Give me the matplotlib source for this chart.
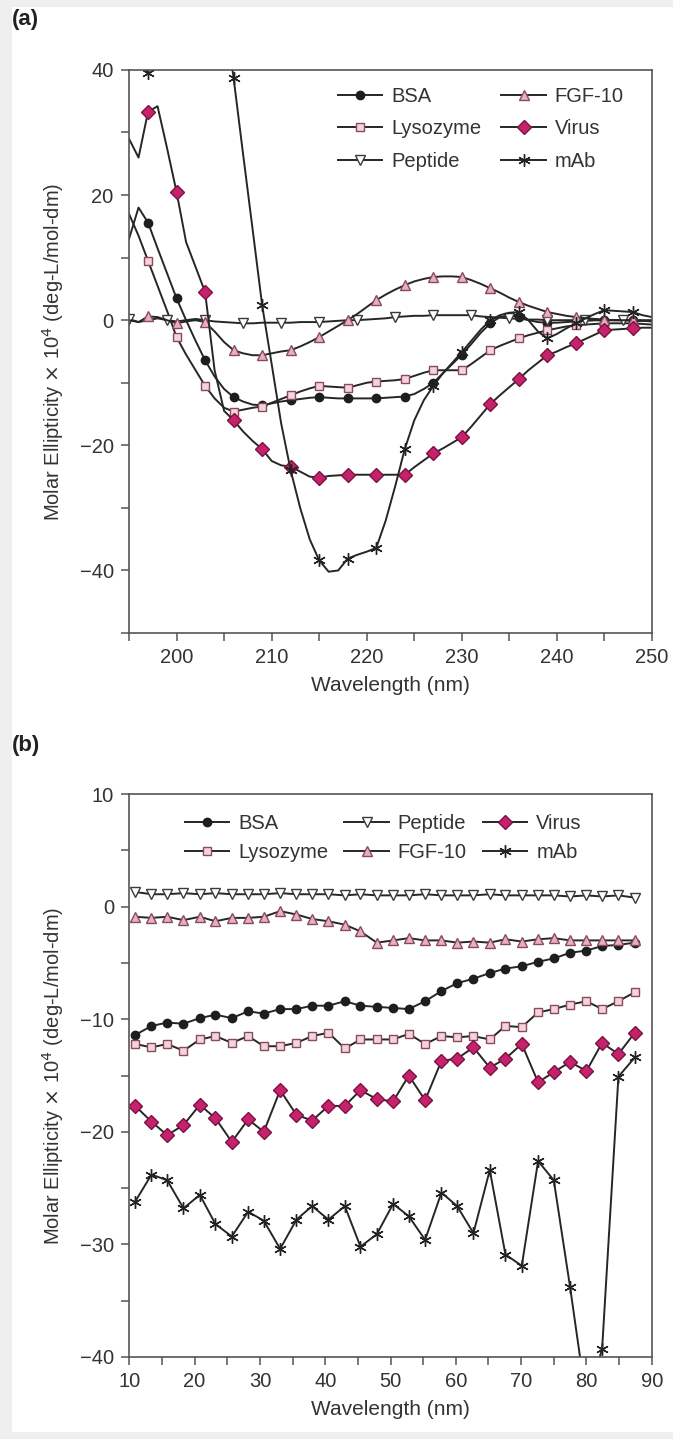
import numpy as np
import matplotlib.pyplot as plt
from matplotlib.patches import Rectangle
from matplotlib.ticker import MultipleLocator

plt.rcParams['font.family'] = ['Liberation Sans', 'DejaVu Sans']

# =================== DADOS ===================
# painel (a): 195-250 nm, passo 1 nm
wl_a = np.arange(195, 251)

bsa_a = [13, 18, 15.6, 11.5, 7.5, 3.5, 0, -3.3, -6.4, -9,
         -11, -12.3, -13, -13.5, -13.6, -13.3, -13, -12.8, -12.6, -12.4,
         -12.3, -12.4, -12.5, -12.5, -12.5, -12.5, -12.5, -12.4, -12.3, -12.2,
         -11.8, -11, -10, -8.5, -7, -5.5, -3.8, -2, -0.5, 0.5,
         0.8, 0.5, 0, -0.3, -0.4, -0.4, -0.3, -0.2, -0.1, 0,
         0, 0, 0, 0, 0, 0]
lyso_a = [17, 13.5, 9.5, 5.5, 1.5, -2.7, -5.5, -8, -10.5, -12.5,
          -14, -14.6, -14.3, -14, -13.8, -13.2, -12.6, -12, -11.4, -10.9,
          -10.5, -10.6, -10.7, -10.8, -10.4, -10, -9.8, -9.7, -9.6, -9.4,
          -8.9, -8.4, -8, -8, -8, -8, -7, -5.9, -4.8, -4.1,
          -3.5, -2.9, -2.4, -2, -1.6, -1.3, -1, -0.8, -0.7, -0.6,
          -0.5, -0.5, -0.5, -0.5, -0.6, -0.7]
pep_a = [0.2, -0.3, 0, 0.3, 0, -0.2, 0, 0.2, 0, -0.2,
         -0.3, -0.4, -0.5, -0.5, -0.4, -0.4, -0.4, -0.4, -0.3, -0.3,
         -0.3, -0.2, -0.1, 0, 0, 0.1, 0.2, 0.3, 0.5, 0.6,
         0.7, 0.7, 0.8, 0.8, 0.8, 0.8, 0.8, 0.6, 0.5, 0.4,
         0.3, 0.2, 0.1, 0.1, 0, 0, 0, 0, 0, 0,
         0, 0, 0, -0.1, -0.1, -0.1]
fgf_a = [0, -0.3, 0.6, 0.5, 0, -0.5, -0.2, 0, -0.3, -1.8,
         -3.5, -4.8, -5.3, -5.6, -5.6, -5.3, -5, -4.8, -4.2, -3.5,
         -2.7, -1.8, -0.9, 0, 1, 2.1, 3.2, 4.1, 4.9, 5.6,
         6.2, 6.6, 6.9, 7, 7, 6.9, 6.4, 5.8, 5.1, 4.4,
         3.6, 2.9, 2.3, 1.8, 1.3, 1, 0.7, 0.5, 0.3, 0.2,
         0.1, 0, 0, 0, -0.1, -0.2]
virus_a = [29, 26, 33.3, 34.2, 27.5, 20.5, 12.5, 8.5, 4.5, -8,
           -14.5, -16, -17.8, -19.3, -20.6, -22.5, -23.2, -23.4, -24.2, -25,
           -25.2, -24.9, -24.8, -24.7, -24.7, -24.7, -24.7, -24.7, -24.7, -24.7,
           -23.5, -22.4, -21.3, -20.5, -19.6, -18.7, -17, -15.2, -13.4, -12,
           -10.7, -9.4, -8, -6.8, -5.6, -5, -4.3, -3.7, -3, -2.3,
           -1.6, -1.5, -1.4, -1.3, -1.2, -1.2]
mab_a = [48, 42, 39.5, 50, 62, 70, 72, 72, 70, 62,
         50, 38.7, 26.5, 14.5, 2.4, -7, -16.5, -24, -30, -35,
         -38.4, -40.2, -40, -38.1, -37.5, -37, -36.4, -32, -26.5, -20.6,
         -16, -12.8, -10.5, -8.5, -6.8, -5.1, -3.3, -1.5, 0, 0.8,
         1.2, 1.3, 0, -1.8, -2.9, -2.2, -1.3, -0.5, 0.3, 1,
         1.6, 1.5, 1.4, 1.3, 0.8, 0.5]

# painel (b)
wl_b = [10.9, 13.4, 15.8, 18.3, 20.8, 23.2, 25.7, 28.2, 30.6, 33.1, 35.6,
        38.0, 40.5, 43.0, 45.4, 47.9, 50.4, 52.8, 55.3, 57.8, 60.2, 62.7,
        65.2, 67.6, 70.1, 72.6, 75.0, 77.5, 80.0, 82.4, 84.9, 87.4]
bsa_b = [-11.4, -10.6, -10.3, -10.4, -9.9, -9.6, -9.9, -9.3, -9.5, -9.1, -9.1,
         -8.8, -8.8, -8.4, -8.8, -8.9, -9.0, -9.1, -8.4, -7.5, -6.8, -6.4,
         -5.9, -5.5, -5.3, -4.9, -4.6, -4.1, -3.9, -3.5, -3.4, -3.2]
lyso_b = [-12.2, -12.5, -12.2, -12.8, -11.8, -11.5, -12.1, -11.5, -12.4, -12.4, -12.1,
          -11.5, -11.2, -12.6, -11.8, -11.8, -11.8, -11.3, -12.2, -11.5, -11.6, -11.5,
          -11.8, -10.6, -10.7, -9.4, -9.1, -8.7, -8.4, -9.1, -8.4, -7.6]
pep_b = [1.3, 1.1, 1.1, 1.2, 1.1, 1.2, 1.1, 1.1, 1.1, 1.2, 1.1,
         1.1, 1.1, 1.0, 1.1, 1.0, 1.0, 1.0, 1.1, 1.0, 1.0, 1.0,
         1.1, 1.0, 1.0, 1.0, 1.0, 0.9, 1.0, 0.9, 1.0, 0.8]
fgf_b = [-0.9, -1.0, -0.9, -1.2, -0.9, -1.3, -1.0, -1.0, -0.9, -0.4, -0.7,
         -1.1, -1.3, -1.6, -2.2, -3.2, -3.0, -2.8, -3.0, -3.0, -3.2, -3.1,
         -3.2, -2.9, -3.1, -2.9, -2.8, -3.0, -3.0, -3.0, -3.0, -3.0]
virus_b = [-17.7, -19.1, -20.3, -19.4, -17.6, -18.8, -20.9, -18.9, -20.0, -16.3, -18.5,
           -19.0, -17.7, -17.7, -16.3, -17.1, -17.3, -15.0, -17.2, -13.7, -13.5, -12.5,
           -14.3, -13.5, -12.2, -15.6, -14.7, -13.8, -14.6, -12.1, -13.1, -11.2]
mab_b = [-26.2, -23.8, -24.3, -26.8, -25.6, -28.2, -29.3, -27.1, -27.9, -30.4, -27.8,
         -26.6, -27.8, -26.6, -30.2, -29.1, -26.4, -27.5, -29.6, -25.4, -26.6, -29.0,
         -23.4, -30.9, -31.9, -22.6, -24.3, -33.8, -44.0, -39.3, -15.1, -13.4]

# =================== ESTILOS ===================
LINHA = '#262626'
ESTILOS = {
    'BSA': dict(marker='o', mfc='#1e1e1e', mec='#1e1e1e', ms=6),
    'Lysozyme': dict(marker='s', mfc='#f4d3dc', mec='#8a4a5a', ms=6),
    'Peptide': dict(marker='v', mfc='white', mec='#3a3a3a', ms=7),
    'FGF-10': dict(marker='^', mfc='#e5b0c0', mec='#8a4a5a', ms=7),
    'Virus': dict(marker='D', mfc='#c4226a', mec='#7d1243', ms=7),
    'mAb': dict(marker=(6, 2, 0), mfc='#222222', mec='#222222', ms=9),
}


def desenhar(ax, x, series, marcas, ordem):
    linhas = {}
    for nome, y in series.items():
        st = ESTILOS[nome]
        ln, = ax.plot(x, y, color=LINHA, lw=1.4, marker=st['marker'],
                      markerfacecolor=st['mfc'], markeredgecolor=st['mec'],
                      markersize=st['ms'], markeredgewidth=1.0,
                      markevery=marcas.get(nome), label=nome)
        linhas[nome] = ln
    return [linhas[n] for n in ordem]


def estilo_eixo(ax):
    for sp in ax.spines.values():
        sp.set_color('#555555')
        sp.set_linewidth(1.2)
    ax.tick_params(which='both', direction='out', length=6, width=1.1,
                   color='#555555', labelcolor='#333333', labelsize=14.5, pad=5)
    ax.set_xlabel('Wavelength (nm)', fontsize=15, color='#333333', labelpad=6)
    ax.set_ylabel(r'Molar Ellipticity $\times$ 10$^{4}$ (deg-L/mol-dm)',
                  fontsize=14.5, color='#333333', labelpad=10)


fig = plt.figure(figsize=(6.73, 14.39), dpi=100, facecolor='#efefef')
fig.add_artist(Rectangle((12 / 673, 0.005), 1, 0.99, transform=fig.transFigure,
                         facecolor='white', edgecolor='none', zorder=-10))

# ---- painel (a)
ax1 = fig.add_axes([0.1917, 0.5601, 0.7771, 0.3913])
series_a = {'BSA': bsa_a, 'Lysozyme': lyso_a, 'Peptide': pep_a,
            'FGF-10': fgf_a, 'Virus': virus_a, 'mAb': mab_a}
marcas_a = {'BSA': (2, 3), 'Lysozyme': (2, 3), 'Peptide': (0, 4),
            'FGF-10': (2, 3), 'Virus': (2, 3), 'mAb': (2, 3)}
h = desenhar(ax1, wl_a, series_a, marcas_a,
             ['BSA', 'Lysozyme', 'Peptide', 'FGF-10', 'Virus', 'mAb'])
ax1.set_xlim(195, 250)
ax1.set_ylim(-50, 40)
ax1.set_xticks([200, 210, 220, 230, 240, 250])
ax1.set_yticks([-40, -20, 0, 20, 40])
ax1.xaxis.set_minor_locator(MultipleLocator(5))
ax1.yaxis.set_minor_locator(MultipleLocator(10))
estilo_eixo(ax1)
ax1.legend(handles=h, ncol=2, frameon=False, fontsize=14.5, loc='upper left',
           bbox_to_anchor=(0.38, 0.988), borderpad=0, handlelength=2.2,
           handletextpad=0.45, columnspacing=1.0, labelspacing=0.68,
           labelcolor='#333333')

# ---- painel (b)
ax2 = fig.add_axes([0.1921, 0.0570, 0.7763, 0.3912])
series_b = {'BSA': bsa_b, 'Lysozyme': lyso_b, 'Peptide': pep_b,
            'FGF-10': fgf_b, 'Virus': virus_b, 'mAb': mab_b}
h = desenhar(ax2, wl_b, series_b, {},
             ['BSA', 'Lysozyme', 'Peptide', 'FGF-10', 'Virus', 'mAb'])
ax2.set_xlim(10, 90)
ax2.set_ylim(-40, 10)
ax2.set_xticks(range(10, 91, 10))
ax2.set_yticks([-40, -30, -20, -10, 0, 10])
ax2.xaxis.set_minor_locator(MultipleLocator(5))
ax2.yaxis.set_minor_locator(MultipleLocator(5))
estilo_eixo(ax2)
ax2.legend(handles=h, ncol=3, frameon=False, fontsize=14.5, loc='upper left',
           bbox_to_anchor=(0.087, 0.982), borderpad=0, handlelength=2.2,
           handletextpad=0.45, columnspacing=0.8, labelspacing=0.5,
           labelcolor='#333333')

fig.text(12 / 673, 1 - 20 / 1439, '(a)', fontsize=16, fontweight='bold',
         color='#222222', va='center', ha='left')
fig.text(12 / 673, 1 - 745 / 1439, '(b)', fontsize=16, fontweight='bold',
         color='#222222', va='center', ha='left')

fig.savefig('out.png', dpi=100, facecolor=fig.get_facecolor())
